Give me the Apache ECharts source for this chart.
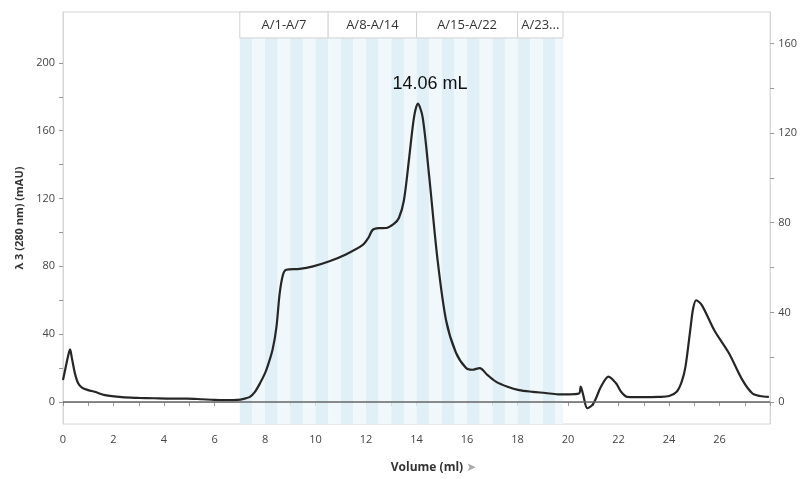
<!DOCTYPE html>
<html>
<head>
    <meta charset="utf-8">
    <title>Chromatogram</title>
    <script src="https://cdn.jsdelivr.net/npm/echarts@6/dist/echarts.min.js"></script>
    <style>
        html, body { margin: 0; padding: 0; background: #fff; }
        #chart1 { width: 800px; height: 479px; }
    </style>
</head>
<body>
<div id="chart1"></div>
<script type="text/javascript">
    // volume (ml) and UV 280 nm (mAU)
    var volume = [0.0, 0.1, 0.2, 0.28, 0.35, 0.47, 0.6, 0.75, 1.0, 1.26, 1.66, 2.33, 3.0, 3.6, 4.3, 4.9, 5.5, 6.0, 6.5, 6.9,
        7.2, 7.4, 7.6, 7.8, 8.0, 8.1, 8.3, 8.45, 8.58, 8.71, 8.84, 9.37, 9.9, 10.55, 11.2, 11.87, 12.1, 12.26, 12.5, 12.8,
        13.1, 13.3, 13.5, 13.7, 13.9, 14.05, 14.24, 14.5, 14.83, 15.17, 15.56, 15.96, 16.2, 16.5, 16.8, 17.14, 17.6, 18.06,
        18.6, 19.1, 19.6, 20.0, 20.43, 20.5, 20.6, 20.76, 20.96, 21.1, 21.3, 21.6, 21.9, 22.1, 22.35, 23.0, 23.6, 24.0,
        24.3, 24.5, 24.65, 24.85, 24.95, 25.07, 25.3, 25.8, 26.36, 26.9, 27.3, 27.6, 27.95];
    var uv280 = [13, 20, 27, 31, 26, 17, 11, 8.5, 7, 6, 4, 2.8, 2.4, 2.2, 2.0, 2.0, 1.6, 1.2, 1.1, 1.2,
        2, 3, 6, 11, 17, 21, 31, 44, 64, 75, 78, 78.5, 80, 83, 87, 92.6, 97, 101.5, 102.5, 102.6,
        105, 108.5, 119, 143, 168, 176, 168, 133, 84, 48, 29, 20, 19, 20, 16, 12, 9, 7,
        6, 5.3, 4.5, 4.5, 5, 9, 4, -3.7, -1.8, 2, 9, 15, 11, 6, 3, 2.8, 3, 3.5,
        6, 12, 21, 44, 55, 60, 57, 42, 29, 13, 5, 3.5, 3];

    // fractions: 0.5 ml each from 7.0 ml, collection stops at 19.8 ml
    var fracStart = 7.0;
    var fracSize = 0.5;
    var fracEnd = 19.8;
    var fracGroups = ['A/1-A/7', 'A/8-A/14', 'A/15-A/22', 'A/23...'];
    var fracGroupEdges = [7.0, 10.5, 14.0, 18.0, 19.8];

    var peakVolume = 14.06;
    var peakValue = 176;

    var leftTicks = [0, 20, 40, 60, 80, 100, 120, 140, 160, 180, 200];
    var leftLabels = [0, 40, 80, 120, 160, 200];
    var rightTicks = [0, 20, 40, 60, 80, 100, 120, 140, 160];
    var rightLabels = [0, 40, 80, 120, 160];
    var xTicks = [];
    for (var t = 0; t <= 28; t++) xTicks.push(t);
    var xLabels = [0, 2, 4, 6, 8, 10, 12, 14, 16, 18, 20, 22, 24, 26];

    var leftMin = -13, leftMax = 230;
    var bandTop = 214.7; // bottom edge of the fraction header row

    var stripes = [];
    var i = 0;
    for (var v = fracStart; v < fracEnd - 0.01; v += fracSize) {
        stripes.push([
            { xAxis: v, yAxis: leftMin, itemStyle: { color: i % 2 ? '#f1f8fb' : '#e1eff6' } },
            { xAxis: Math.min(v + fracSize, fracEnd), yAxis: bandTop }
        ]);
        i++;
    }
    var boxes = fracGroups.map(function (name, k) {
        return [
            { name: name, xAxis: fracGroupEdges[k], yAxis: bandTop,
              itemStyle: { color: '#fff', borderColor: '#d2d2d2', borderWidth: 1 } },
            { xAxis: fracGroupEdges[k + 1], yAxis: leftMax }
        ];
    });

    var font = '"Open Sans", "Noto Sans", sans-serif';
    var myChart = echarts.init(document.getElementById('chart1'));
    myChart.setOption({
        animation: false,
        grid: {
            left: 63, right: 29, top: 12, bottom: 55,
            show: true, borderColor: '#d6d6d6', borderWidth: 1
        },
        xAxis: {
            type: 'value', min: 0, max: 28,
            name: 'Volume (ml) {b|➤}',
            nameLocation: 'middle', nameGap: 38,
            nameTextStyle: {
                fontFamily: font, fontSize: 12, fontWeight: 'bold', color: '#333',
                padding: [0, 0, 0, 34],
                rich: { b: { fontFamily: 'DejaVu Sans', fontSize: 12, color: '#aaa' } }
            },
            axisLine: { lineStyle: { color: '#cfcfcf' } },
            axisTick: { customValues: xTicks, length: 4, lineStyle: { color: '#999' } },
            axisLabel: { customValues: xLabels, fontFamily: font, fontSize: 11, color: '#444', margin: 10 },
            splitLine: { show: false }
        },
        yAxis: [{
            type: 'value', min: leftMin, max: leftMax, position: 'left',
            name: 'λ 3 (280 nm) (mAU)',
            nameLocation: 'middle', nameGap: 38, nameRotate: 90,
            nameTextStyle: { fontFamily: font, fontSize: 11, fontWeight: 'bold', color: '#333' },
            axisLine: { show: true, lineStyle: { color: '#d6d6d6' } },
            axisTick: { show: true, customValues: leftTicks, length: 4, lineStyle: { color: '#999' } },
            axisLabel: { customValues: leftLabels, fontFamily: font, fontSize: 11, color: '#444', margin: 8 },
            splitLine: { show: false }
        }, {
            type: 'value', min: -9.8, max: 174, position: 'right',
            axisLine: { show: true, lineStyle: { color: '#d6d6d6' } },
            axisTick: { show: true, customValues: rightTicks, length: 4, lineStyle: { color: '#999' } },
            axisLabel: { customValues: rightLabels, fontFamily: font, fontSize: 11, color: '#444', margin: 8 },
            splitLine: { show: false }
        }],
        series: [{
            // fraction stripes and header boxes
            type: 'line', data: [], silent: true,
            markArea: {
                silent: true,
                data: stripes.concat(boxes),
                label: {
                    show: true, position: 'inside',
                    fontFamily: font, fontSize: 13, color: '#333',
                    formatter: function (p) { return p.name || ''; }
                }
            }
        }, {
            name: 'UV 280', type: 'line',
            data: volume.map(function (x, k) { return [x, uv280[k]]; }),
            showSymbol: false, smooth: 0.3,
            lineStyle: { color: '#262626', width: 2.2 },
            markLine: {
                silent: true, symbol: 'none',
                label: { show: false },
                lineStyle: { color: '#666', width: 1.5, type: 'solid' },
                data: [{ yAxis: 0 }]
            },
            markPoint: {
                symbolSize: 0,
                data: [{ coord: [peakVolume, peakValue] }],
                label: {
                    show: true, position: 'top', offset: [12, -6],
                    formatter: '14.06 mL',
                    fontFamily: '"Liberation Sans", Arial, sans-serif', fontSize: 18, color: '#111'
                }
            }
        }]
    });
</script>
</body>
</html>
